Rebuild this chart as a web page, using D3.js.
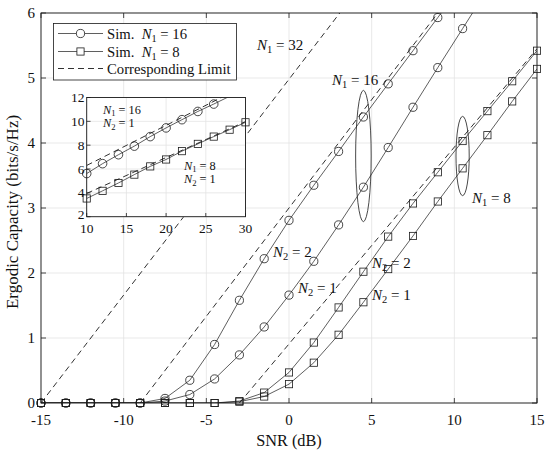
<!DOCTYPE html>
<html><head><meta charset="utf-8">
<script src="https://cdn.jsdelivr.net/npm/d3@7"></script>
<style>body{margin:0;background:#fff}svg{display:block}</style>
</head><body><svg id="c" width="550" height="454" font-family="'Liberation Serif', 'Times New Roman', 'DejaVu Serif', serif" fill="#111"></svg>
<script>
// ---------- data ----------
const snr = [-15,-13.5,-12,-10.5,-9,-7.5,-6,-4.5,-3,-1.5,0,1.5,3,4.5,6,7.5,9,10.5,12,13.5,15];
const simN16N2_2 = [0,0,0,0,0,0.07,0.35,0.9,1.58,2.22,2.81,3.35,3.87,4.4,4.91,5.42,5.93,6.44,6.95,7.46,7.97];
const simN16N2_1 = [0,0,0,0,0,0.03,0.13,0.37,0.74,1.17,1.66,2.18,2.74,3.32,3.93,4.55,5.16,5.76,6.36,6.96,7.56];
const simN8N2_2  = [0,0,0,0,0,0,0,0,0.03,0.16,0.47,0.93,1.47,2.02,2.56,3.07,3.55,4.03,4.49,4.95,5.42];
const simN8N2_1  = [0,0,0,0,0,0,0,0,0.02,0.10,0.29,0.62,1.05,1.55,2.06,2.57,3.10,3.61,4.12,4.64,5.14];
const limN32 = [[-15,0],[3.07,6]];
const limN16 = [[-9,0],[9,6]];
const limN8  = [[-3,0],[15,5.45]];
const xTicks = [-15,-10,-5,0,5,10,15];
const yTicks = [0,1,2,3,4,5,6];
// inset
const inX16 = [10,12,14,16,18,20,22,24,26,28];
const inSim16 = [5.62,6.45,7.2,7.92,8.72,9.45,10.14,10.83,11.45,12.1];
const inX8 = [10,12,14,16,18,20,22,24,26,28,30];
const inSim8 = [3.53,4.17,4.83,5.53,6.22,6.8,7.5,8.11,8.72,9.3,9.92];
const inLim16 = [[10,6.3],[28,12.35]];
const inLim8 = [[10,3.95],[30,9.98]];
const inXTicks = [10,15,20,25,30];
const inYTicks = [2,4,6,8,10,12];

// ---------- setup ----------
const svg = d3.select("#c");
const x = d3.scaleLinear().domain([-15,15]).range([41,537]);
const y = d3.scaleLinear().domain([0,6]).range([403,13]);
const grid = "#e3e3e3", ink = "#1a1a1a";

svg.append("defs").append("clipPath").attr("id","clipMain")
  .append("rect").attr("x",41).attr("y",13).attr("width",496).attr("height",390);

const g = svg.append("g");
g.selectAll(".gx").data(xTicks).join("line").attr("x1",d=>x(d)).attr("x2",d=>x(d)).attr("y1",13).attr("y2",403).attr("stroke",grid).attr("stroke-width",0.8);
g.selectAll(".gy").data(yTicks).join("line").attr("y1",d=>y(d)).attr("y2",d=>y(d)).attr("x1",41).attr("x2",537).attr("stroke",grid).attr("stroke-width",0.8);

const data = g.append("g").attr("clip-path","url(#clipMain)");
const marks = g.append("g");
const line = d3.line().x(d=>x(d[0])).y(d=>y(d[1]));
function dash(pts){ data.append("path").attr("d",line(pts)).attr("fill","none").attr("stroke",ink).attr("stroke-width",0.9).attr("stroke-dasharray","6,4"); }
dash(limN32); dash(limN16); dash(limN8);

function series(vals, marker){
  const pts = snr.map((s,i)=>[s,vals[i]]);
  data.append("path").attr("d",line(pts)).attr("fill","none").attr("stroke",ink).attr("stroke-width",0.7);
  const vis = pts.filter(p=>p[1]<=6.0);
  if(marker==="c"){
    marks.selectAll(null).data(vis).join("circle").attr("cx",d=>x(d[0])).attr("cy",d=>y(d[1])).attr("r",4.1).attr("fill","none").attr("stroke",ink).attr("stroke-width",0.8);
  } else {
    marks.selectAll(null).data(vis).join("rect").attr("x",d=>x(d[0])-3.6).attr("y",d=>y(d[1])-3.6).attr("width",7.2).attr("height",7.2).attr("fill","none").attr("stroke",ink).attr("stroke-width",0.8);
  }
}
series(simN8N2_1,"s"); series(simN8N2_2,"s");
series(simN16N2_1,"c"); series(simN16N2_2,"c");

const ell = [{cx:4.5,cy:3.8,rx:0.47,ry:1.01},{cx:10.5,cy:3.8,rx:0.4,ry:0.61}];
g.selectAll(".el").data(ell).join("ellipse").attr("cx",d=>x(d.cx)).attr("cy",d=>y(d.cy))
  .attr("rx",d=>x(d.cx+d.rx)-x(d.cx)).attr("ry",d=>y(d.cy)-y(d.cy+d.ry)).attr("fill","none").attr("stroke",ink).attr("stroke-width",0.8);

g.append("rect").attr("x",41).attr("y",13).attr("width",496).attr("height",390).attr("fill","none").attr("stroke",ink).attr("stroke-width",0.9);
g.selectAll(".tx").data(xTicks).join("line").attr("x1",d=>x(d)).attr("x2",d=>x(d)).attr("y1",403).attr("y2",398).attr("stroke",ink).attr("stroke-width",0.8);
g.selectAll(".tx2").data(xTicks).join("line").attr("x1",d=>x(d)).attr("x2",d=>x(d)).attr("y1",13).attr("y2",18).attr("stroke",ink).attr("stroke-width",0.8);
g.selectAll(".ty").data(yTicks).join("line").attr("y1",d=>y(d)).attr("y2",d=>y(d)).attr("x1",41).attr("x2",46).attr("stroke",ink).attr("stroke-width",0.8);
g.selectAll(".ty2").data(yTicks).join("line").attr("y1",d=>y(d)).attr("y2",d=>y(d)).attr("x1",537).attr("x2",532).attr("stroke",ink).attr("stroke-width",0.8);
g.selectAll(".lx").data(xTicks).join("text").attr("x",d=>x(d)).attr("y",424.5).attr("text-anchor","middle").attr("font-size",15).text(d=>d);
g.selectAll(".ly").data(yTicks).join("text").attr("x",35).attr("y",d=>y(d)+5).attr("text-anchor","end").attr("font-size",15).text(d=>d);
g.append("text").attr("x",289).attr("y",445.5).attr("text-anchor","middle").attr("font-size",16.3).text("SNR (dB)");
g.append("text").attr("transform","translate(18,212) rotate(-90)").attr("text-anchor","middle").attr("font-size",17).text("Ergodic Capacity (bits/s/Hz)");

function mlabel(parent, x0, y0, sub, rest, fs){
  const t = parent.append("text").attr("x",x0).attr("y",y0).attr("font-size",fs);
  t.append("tspan").attr("font-style","italic").text("N");
  t.append("tspan").attr("font-size",fs*0.7).attr("dy",fs*0.22).text(sub);
  t.append("tspan").attr("dy",-fs*0.22).text(" = "+rest);
  return t;
}
mlabel(g,257,50,"1","32",15);
mlabel(g,332,85,"1","16",15);
mlabel(g,472,203,"1","8",15);
mlabel(g,273,257,"2","2",15);
mlabel(g,298,293,"2","1",15);
mlabel(g,372,268,"2","2",15);
mlabel(g,372,300,"2","1",15);

const lg = svg.append("g");
lg.append("rect").attr("x",53.5).attr("y",23.5).attr("width",183).attr("height",56.5).attr("fill","#fff").attr("stroke",ink).attr("stroke-width",0.8);
const rows = [{y:33.5,m:"c",lab:"16"},{y:51.5,m:"s",lab:"8"},{y:68.5,m:"d"}];
rows.forEach(r=>{
  const ln = lg.append("line").attr("x1",58).attr("x2",103).attr("y1",r.y).attr("y2",r.y).attr("stroke",ink).attr("stroke-width",r.m==="d"?0.9:0.7);
  if(r.m==="d") ln.attr("stroke-dasharray","6,4");
  if(r.m==="c") lg.append("circle").attr("cx",80.5).attr("cy",r.y).attr("r",4.1).attr("fill","#fff").attr("stroke",ink).attr("stroke-width",0.8);
  if(r.m==="s") lg.append("rect").attr("x",76.9).attr("y",r.y-3.6).attr("width",7.2).attr("height",7.2).attr("fill","#fff").attr("stroke",ink).attr("stroke-width",0.8);
  if(r.m==="d") lg.append("text").attr("x",107).attr("y",r.y+5).attr("font-size",14.7).text("Corresponding Limit");
  else {
    const t = lg.append("text").attr("x",107).attr("y",r.y+5).attr("font-size",14.7);
    t.append("tspan").text("Sim.\u2002");
    t.append("tspan").attr("font-style","italic").text("N");
    t.append("tspan").attr("font-size",10.3).attr("dy",3.2).text("1");
    t.append("tspan").attr("dy",-3.2).text(" = "+r.lab);
  }
});

const ix = d3.scaleLinear().domain([10,30]).range([86.7,245.5]);
const iy = d3.scaleLinear().domain([2,12]).range([216.7,97.5]);
const ig = svg.append("g");
const iw = 245.5-86.7, ih = 216.7-97.5;
ig.append("rect").attr("x",86.7).attr("y",97.5).attr("width",iw).attr("height",ih).attr("fill","#fff");
svg.select("defs").append("clipPath").attr("id","clipIn").append("rect").attr("x",86.7).attr("y",97.5).attr("width",iw).attr("height",ih);
ig.selectAll(".igx").data(inXTicks).join("line").attr("x1",d=>ix(d)).attr("x2",d=>ix(d)).attr("y1",97.5).attr("y2",216.7).attr("stroke",grid).attr("stroke-width",0.8);
ig.selectAll(".igy").data(inYTicks).join("line").attr("y1",d=>iy(d)).attr("y2",d=>iy(d)).attr("x1",86.7).attr("x2",245.5).attr("stroke",grid).attr("stroke-width",0.8);
const idata = ig.append("g").attr("clip-path","url(#clipIn)");
const iline = d3.line().x(d=>ix(d[0])).y(d=>iy(d[1]));
[inLim16,inLim8].forEach(p=>idata.append("path").attr("d",iline(p)).attr("fill","none").attr("stroke",ink).attr("stroke-width",0.9).attr("stroke-dasharray","6,4"));
const p16 = inX16.map((v,i)=>[v,inSim16[i]]);
const p8 = inX8.map((v,i)=>[v,inSim8[i]]);
idata.append("path").attr("d",iline(p16)).attr("fill","none").attr("stroke",ink).attr("stroke-width",0.7);
idata.append("path").attr("d",iline(p8)).attr("fill","none").attr("stroke",ink).attr("stroke-width",0.7);
ig.selectAll(null).data(p16.filter(p=>p[1]<=12)).join("circle").attr("cx",d=>ix(d[0])).attr("cy",d=>iy(d[1])).attr("r",4.3).attr("fill","none").attr("stroke",ink).attr("stroke-width",0.8);
ig.selectAll(null).data(p8).join("rect").attr("x",d=>ix(d[0])-3.6).attr("y",d=>iy(d[1])-3.6).attr("width",7.2).attr("height",7.2).attr("fill","none").attr("stroke",ink).attr("stroke-width",0.8);
ig.append("rect").attr("x",86.7).attr("y",97.5).attr("width",iw).attr("height",ih).attr("fill","none").attr("stroke",ink).attr("stroke-width",0.9);
ig.selectAll(".itx").data(inXTicks).join("line").attr("x1",d=>ix(d)).attr("x2",d=>ix(d)).attr("y1",216.7).attr("y2",213).attr("stroke",ink).attr("stroke-width",0.8);
ig.selectAll(".ity").data(inYTicks).join("line").attr("y1",d=>iy(d)).attr("y2",d=>iy(d)).attr("x1",86.7).attr("x2",90.5).attr("stroke",ink).attr("stroke-width",0.8);
ig.selectAll(".ilx").data(inXTicks).join("text").attr("x",d=>ix(d)).attr("y",233).attr("text-anchor","middle").attr("font-size",13.5).text(d=>d);
ig.selectAll(".ily").data(inYTicks).join("text").attr("x",84.5).attr("y",d=>iy(d)+(d===2?2.5:4.6)).attr("text-anchor","end").attr("font-size",13.5).text(d=>d);
mlabel(ig,103,113.5,"1","16",12.3);
mlabel(ig,103,127,"2","1",12.3);
mlabel(ig,184,169.5,"1","8",12.3);
mlabel(ig,184,183,"2","1",12.3);
</script></body></html>
